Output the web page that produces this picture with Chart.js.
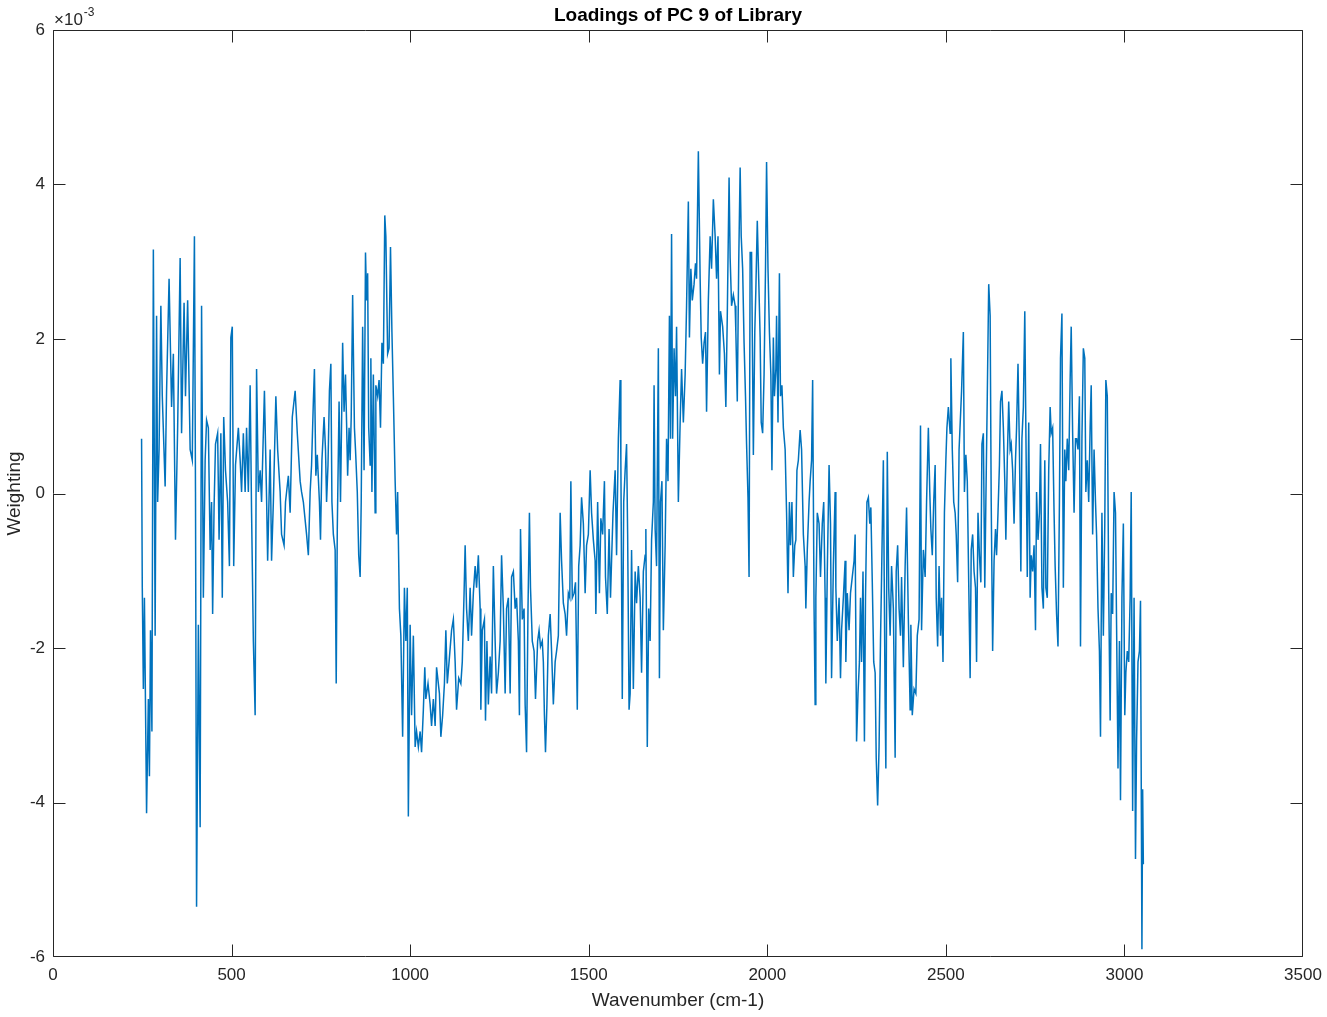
<!DOCTYPE html>
<html><head><meta charset="utf-8">
<script src="https://cdn.jsdelivr.net/npm/chart.js@4.4.1/dist/chart.umd.min.js"></script>
<style>html,body{margin:0;padding:0;background:#fff;overflow:hidden}#wrap{position:relative;width:1327px;height:1017px}canvas{display:block}</style>
</head><body><div id="wrap"><canvas id="c" width="1327" height="1017"></canvas></div>
<script>
const chartTitle = 'Loadings of PC 9 of Library';
const xAxisLabel = 'Wavenumber (cm-1)';
const yAxisLabel = 'Weighting';
const yExponent = '-3';
const xTickValues = [0, 500, 1000, 1500, 2000, 2500, 3000, 3500];
const yTickValues = [-6, -4, -2, 0, 2, 4, 6];

const wavenumber = [
248,250,253,256,262,267,270,273,277,281,286,290,293,297,302,306,314,318,325,332,337,343,349,356,360,367,371,377,384,390,396,399,402,407,412,416,421,426,430,435,440,444,447,451,455,461,465,470,474,478,483,489,494,498,502,506,511,519,524,528,533,538,542,547,552,556,561,566,570,575,580,584,592,598,601,608,612,617,624,629,636,640,647,651,659,664,670,678,684,692,
696,701,710,715,720,724,729,732,736,740,746,749,753,759,763,766,770,774,778,781,785,790,793,796,801,805,807,811,815,819,822,825,829,832,835,839,844,847,852,856,860,863,867,871,875,878,881,884,888,890,893,897,902,904,909,913,917,921,925,929,932,937,941,945,949,953,958,962,965,970,974,979,984,988,992,995,1000,1004,1009,1014,1018,1023,1028,1032,1037,1041,1044,1050,1056,1060,1065,1070,1074,1082,1086,1091,1096,1100,1104,1109,1116,1121,1126,1130,1136,1142,1146,1151,
1154,1158,1163,1168,1172,1177,1182,1186,1191,1196,1198,1202,1208,1211,1215,1219,1224,1228,1233,1238,1242,1247,1252,1256,1261,1266,1270,1275,1280,1284,1289,1294,1298,1303,1306,1309,1314,1319,1322,1326,1330,1334,1337,1342,1347,1351,1357,1361,1365,1370,1373,1376,1379,1383,1387,1392,1396,1401,1406,1410,1415,1420,1424,1429,1434,1438,1443,1447,1450,1454,1459,1463,1468,1472,1476,1480,1485,1490,1494,1499,1504,1508,1513,1518,1520,1525,1530,1534,1539,1544,1547,1552,1557,1561,1564,1568,1574,1578,1583,1588,1590,1594,1598,1602,1606,1609,1613,
1616,1620,1625,1630,1634,1639,1644,1648,1653,1658,1660,1664,1668,1672,1676,1681,1683,1686,1690,1695,1698,1701,1705,1709,1714,1718,1722,1726,1729,1732,1735,1739,1743,1746,1751,1756,1760,1765,1770,1774,1779,1782,1786,1790,1795,1799,1802,1807,1812,1815,1819,1823,1827,1830,1835,1840,1844,1849,1854,1858,1862,1866,1869,1875,1880,1884,1888,1893,1896,1900,1905,1910,1912,1916,1920,1924,1927,1931,1935,1939,1942,1946,1949,1952,1956,1961,1965,1968,1972,1976,1980,1983,1987,1991,1995,1998,2002,2006,2010,2013,2017,2020,2024,2026,2030,2034,2037,2041,2045,2050,2054,2058,2062,2065,2069,2073,2077,
2080,2083,2087,2092,2096,2101,2106,2108,2112,2117,2120,2124,2127,2131,2134,2136,2140,2145,2149,2154,2158,2162,2164,2168,2173,2177,2180,2185,2190,2192,2196,2201,2205,2208,2213,2218,2220,2224,2229,2233,2238,2243,2246,2250,2254,2258,2261,2264,2268,2272,2275,2279,2283,2287,2290,2294,2298,2302,2305,2309,2313,2317,2320,2325,2330,2332,2336,2340,2344,2348,2353,2358,2361,2365,2369,2373,2376,2381,2386,2390,2395,2400,2402,2406,2411,2416,2420,2425,2429,2432,2437,2442,2446,2451,2455,2458,2462,2466,2470,2473,2477,2481,2485,2488,2492,2496,2500,2503,2507,2512,2514,2518,2522,2526,2529,2533,2537,
2544,2549,2552,2556,2560,2564,2568,2571,2575,2579,2583,2586,2590,2594,2598,2601,2605,2609,2612,2616,2620,2624,2627,2631,2635,2639,2642,2646,2650,2653,2657,2661,2665,2668,2672,2676,2680,2683,2687,2691,2695,2698,2702,2706,2710,2713,2717,2721,2724,2728,2732,2736,2739,2743,2747,2751,2754,2758,2762,2765,2769,2773,2777,2780,2784,2788,2792,2795,2799,2803,2806,2810,2814,2818,2821,2825,2829,2833,2836,2840,2844,2848,2851,2855,2859,2863,2866,2870,2874,2877,2881,2885,2889,2892,2896,2900,2904,2907,2911,2915,2919,2922,2926,2930,2933,2937,2941,2945,2948,2952,2956,2960,2963,2967,2971,2975,2978,2982,2986,2989,2993,2997,3001,3004,3008,3012,3016,3019,3023,3027,3031,3034,3038,3042,3045,3049,3051,3053
];

// Weighting values in units of 10^-3
const weighting = [
0.71,-1.22,-2.53,-1.35,-4.14,-2.66,-3.66,-1.77,-3.08,3.16,-1.84,2.30,-0.11,0.57,2.43,1.26,0.09,1.33,2.78,1.12,1.81,-0.60,0.85,3.05,0.78,2.47,1.26,2.50,0.57,0.43,3.33,0.02,-5.35,-1.70,-4.32,2.43,-1.35,0.43,0.95,0.85,-0.73,-0.11,-1.56,-0.18,0.64,0.78,-0.60,0.78,-1.35,0.99,0.30,-0.11,-0.94,2.02,2.16,-0.94,0.37,0.85,0.43,0.02,0.78,0.02,0.85,0.02,1.40,-0.25,-1.91,-2.87,1.61,0.02,0.30,-0.11,1.33,-0.05,-0.87,0.57,-0.87,-0.11,1.26,0.57,0.02,-0.53,-0.67,-0.11,0.23,-0.25,0.99,1.33,0.78,0.16,
0.02,-0.11,-0.53,-0.80,0.02,0.37,1.19,1.61,0.23,0.50,-0.11,-0.60,0.43,0.99,0.57,-0.11,0.37,1.33,1.68,-0.11,-0.53,-0.73,-2.46,-0.46,1.19,-0.11,0.57,1.95,1.06,1.54,0.92,0.23,0.85,0.43,0.99,2.57,0.85,0.57,0.02,-0.80,-1.08,-0.11,2.16,0.30,3.12,2.50,2.85,0.85,0.37,1.75,0.02,1.54,-0.25,1.40,1.26,1.47,0.85,1.95,1.68,3.60,3.33,1.81,1.88,3.19,2.09,1.26,0.16,-0.53,0.02,-1.49,-1.84,-3.15,-1.22,-1.91,-1.22,-4.18,-1.70,-2.87,-1.84,-3.28,-3.08,-3.28,-3.08,-3.35,-2.80,-2.25,-2.66,-2.46,-2.73,-3.01,-2.66,-3.01,-2.25,-2.59,-3.15,-2.87,-2.46,-1.77,-2.46,-2.18,-1.77,-1.63,-2.18,-2.80,-2.39,-2.46,-2.18,-1.29,
-0.67,-1.49,-1.91,-1.22,-1.84,-1.29,-0.94,-1.22,-0.80,-1.49,-2.80,-1.77,-1.63,-2.94,-1.91,-2.73,-2.11,-2.59,-0.94,-1.91,-2.59,-2.32,-1.91,-0.80,-1.49,-2.59,-1.49,-1.35,-2.59,-1.08,-1.01,-1.49,-1.35,-1.91,-2.87,-0.46,-1.63,-1.49,-2.73,-3.35,-1.49,-0.25,-1.22,-1.91,-2.04,-2.66,-1.91,-1.77,-1.98,-1.91,-2.18,-2.87,-3.35,-2.73,-1.84,-1.56,-2.04,-2.73,-2.18,-2.04,-1.84,-0.25,-0.87,-1.42,-1.56,-1.84,-1.29,-1.35,0.16,-1.35,-1.29,-1.15,-2.80,-0.94,-0.67,-0.05,-0.39,-1.29,-0.67,-0.53,0.30,-0.25,-0.60,-0.87,-1.56,-0.11,-1.29,-0.32,-0.53,0.16,-1.08,-1.56,-0.46,-1.35,-0.87,-0.25,0.30,-0.80,0.71,1.47,0.43,-2.66,-0.11,0.30,0.64,-0.53,-2.80,
-2.59,-0.73,-2.53,-1.01,-1.42,-0.94,-1.35,-2.32,-1.01,-0.80,-0.46,-3.28,-1.49,-1.91,-0.60,-0.11,1.40,-0.46,-0.94,1.88,-2.39,-0.11,0.16,-1.77,-0.67,0.71,0.16,2.30,0.71,3.36,0.71,1.88,1.26,2.16,-0.11,0.92,1.61,0.92,1.54,2.43,3.78,2.02,2.91,2.50,2.71,2.98,2.78,4.43,2.78,2.02,1.68,1.95,2.09,1.06,2.50,3.33,2.91,3.81,3.33,2.78,3.33,1.54,2.36,2.16,1.81,1.12,2.30,4.09,3.05,2.43,2.57,2.43,2.09,1.19,2.98,4.22,3.33,2.91,1.95,1.26,0.64,-0.05,-1.08,3.12,3.12,0.50,2.09,2.64,3.53,2.78,2.02,0.92,0.78,1.54,2.91,4.29,2.91,2.09,1.54,0.30,2.02,1.26,1.61,2.30,0.92,2.85,1.26,1.40,0.85,0.57,-0.25,-1.29,-0.11,-0.67,-0.11,-1.08,-0.67,
-0.60,0.30,0.43,0.82,0.57,-0.53,-0.94,-1.49,-0.73,-0.11,0.16,0.43,1.47,-1.49,-2.73,-1.35,-0.25,-0.39,-1.08,-0.39,-0.11,-1.35,-2.46,-1.01,0.37,-0.39,-2.39,-0.94,0.02,-1.22,-1.91,-1.35,-2.39,-1.77,-1.35,-0.87,-2.18,-1.29,-1.77,-1.29,-1.08,-0.87,-0.53,-3.21,-2.59,-2.18,-1.35,-2.18,-1.01,-3.21,-1.35,-0.11,-0.05,-0.39,-0.18,-1.15,-2.18,-2.32,-3.42,-4.04,-3.28,-1.91,-1.08,0.43,-2.73,-3.56,0.54,-1.22,-1.84,-0.94,-1.49,-3.42,-1.01,-0.67,-1.49,-1.84,-1.08,-2.25,-0.94,-0.18,-1.63,-2.80,-1.70,-2.87,-2.53,-2.59,-1.84,-1.63,0.88,-1.77,-0.73,-1.08,-0.11,0.85,0.02,-0.46,-0.80,-0.11,0.37,-1.35,-1.98,-0.94,-1.84,-1.35,-2.18,-0.25,0.43,0.85,1.12,0.78,1.75,0.57,-0.11,-0.25,-0.53,-1.15,0.57,
1.33,2.09,0.02,0.50,0.16,-1.15,-2.39,-0.73,-0.53,-1.01,-1.22,-2.18,-0.25,-0.80,-1.15,0.64,0.78,-1.22,-0.11,1.26,2.71,2.30,-0.11,-2.04,-0.87,-0.46,-0.80,-0.25,0.37,1.19,1.33,0.85,0.16,-0.60,0.43,1.19,0.57,0.64,0.30,-0.39,0.43,0.85,1.68,0.57,-1.01,0.71,1.12,2.36,0.85,-1.08,0.92,-1.35,-0.80,-1.01,-0.67,-1.77,0.02,-0.60,-0.25,0.64,-1.22,-1.49,0.43,-1.22,-1.35,0.30,1.12,0.78,0.85,-0.25,-0.94,-1.56,-1.98,-0.11,1.75,2.33,-1.22,0.57,0.16,0.71,0.30,1.47,2.16,0.78,-0.25,0.71,0.71,0.57,1.26,-1.98,0.71,1.88,1.75,0.02,0.43,-0.11,0.85,1.40,-0.53,0.57,-0.11,-0.53,-1.49,-2.04,-3.15,-0.25,-1.84,-0.39,1.47,1.26,-1.29,-2.94,-1.29,-1.56,0.02,-0.25,-1.70,-3.56,-1.91,-3.97,-1.35,-0.39,-2.87,-2.32,-2.04,-2.18,-1.35,0.02,-4.11,-1.35,-4.73,-3.21,-2.18,-2.04,-1.39,-5.90,-3.83,-4.80
];

const FONT = '"Liberation Sans", Arial, Helvetica, sans-serif';
const AXIS_COLOR = '#262626';
const LINE_COLOR = '#0072BD';

const points = wavenumber.map((w, i) => ({ x: w, y: weighting[i] }));

const matlabAxes = {
  id: 'matlabAxes',
  afterDraw(chart) {
    const ctx = chart.ctx;
    const a = chart.chartArea;
    const xs = chart.scales.x, ys = chart.scales.y;
    const L = Math.round(a.left) + 0.5, R = Math.round(a.right) - 0.5;
    const T = Math.round(a.top) + 0.5, B = Math.round(a.bottom) - 0.5;
    const tl = 12;
    ctx.save();
    ctx.strokeStyle = AXIS_COLOR;
    ctx.lineWidth = 1;
    ctx.beginPath();
    ctx.rect(L, T, R - L, B - T);
    xTickValues.forEach(v => {
      const px = Math.min(R, Math.max(L, Math.round(xs.getPixelForValue(v)) + 0.5));
      ctx.moveTo(px, B); ctx.lineTo(px, B - tl);
      ctx.moveTo(px, T); ctx.lineTo(px, T + tl);
    });
    yTickValues.forEach(v => {
      const py = Math.min(B, Math.max(T, Math.round(ys.getPixelForValue(v)) + 0.5));
      ctx.moveTo(L, py); ctx.lineTo(L + tl, py);
      ctx.moveTo(R, py); ctx.lineTo(R - tl, py);
    });
    ctx.stroke();

    const cx = (a.left + a.right) / 2;
    ctx.fillStyle = '#000';
    ctx.font = 'bold 19px ' + FONT;
    ctx.textAlign = 'center';
    ctx.textBaseline = 'alphabetic';
    ctx.fillText(chartTitle, cx, 21);
    ctx.fillStyle = AXIS_COLOR;
    ctx.font = '19px ' + FONT;
    ctx.fillText(xAxisLabel, cx, 1006);
    ctx.save();
    ctx.translate(20, (a.top + a.bottom) / 2);
    ctx.rotate(-Math.PI / 2);
    ctx.fillText(yAxisLabel, 0, 0);
    ctx.restore();
    ctx.textAlign = 'left';
    ctx.font = '17px ' + FONT;
    ctx.fillText('\u00D710', a.left + 1, 25);
    const w = ctx.measureText('\u00D710').width;
    ctx.font = '12px ' + FONT;
    ctx.fillText(yExponent, a.left + 1 + w + 1, 16);
    ctx.restore();
  }
};

new Chart(document.getElementById('c'), {
  type: 'scatter',
  data: {
    datasets: [{
      data: points,
      showLine: true,
      borderColor: LINE_COLOR,
      backgroundColor: LINE_COLOR,
      borderWidth: 1.5,
      pointRadius: 0,
      tension: 0,
      fill: false,
      borderJoinStyle: 'miter'
    }]
  },
  options: {
    responsive: false,
    devicePixelRatio: 1,
    animation: false,
    layout: { padding: { left: 0, top: 30, right: 24, bottom: 0 } },
    plugins: { legend: { display: false }, tooltip: { enabled: false }, title: { display: false } },
    scales: {
      x: {
        type: 'linear', min: 0, max: 3500,
        afterBuildTicks: s => { s.ticks = xTickValues.map(v => ({ value: v })); },
        afterFit: s => { s.height = 60; s.paddingLeft = 0; s.paddingRight = 0; },
        grid: { display: false, drawTicks: false },
        border: { display: false },
        ticks: { color: AXIS_COLOR, font: { family: FONT, size: 17 }, padding: 8, autoSkip: false, maxRotation: 0, callback: v => String(v) }
      },
      y: {
        type: 'linear', min: -6, max: 6,
        afterBuildTicks: s => { s.ticks = yTickValues.map(v => ({ value: v })); },
        afterFit: s => { s.width = 53; s.paddingTop = 0; s.paddingBottom = 0; },
        grid: { display: false, drawTicks: false },
        border: { display: false },
        ticks: { color: AXIS_COLOR, font: { family: FONT, size: 17 }, padding: 8, autoSkip: false, callback: v => String(v) }
      }
    }
  },
  plugins: [matlabAxes]
});
</script>
</body></html>
